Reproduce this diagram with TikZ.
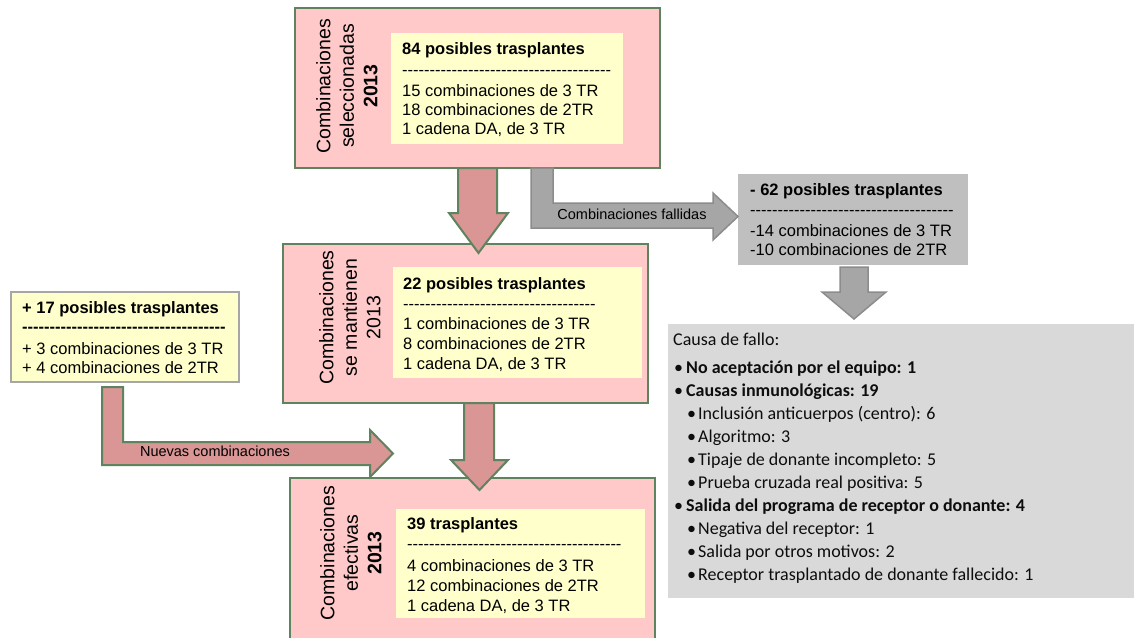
\documentclass[tikz,border=0pt]{standalone}
\usepackage{fontspec}
\newfontfamily\arial{Liberation Sans}
\newfontfamily\calib{Carlito}
\ExplSyntaxOn
\NewDocumentCommand\dashrow{m}{\prg_replicate:nn{#1}{-}}
\ExplSyntaxOff
\definecolor{pinkfill}{HTML}{FFC9C9}
\definecolor{yel}{HTML}{FFFFCC}
\definecolor{boxgreen}{HTML}{5F825F}
\definecolor{parrow}{HTML}{D99694}
\definecolor{garrow}{HTML}{A6A6A6}
\definecolor{garrowline}{HTML}{8C8C8C}
\definecolor{gbox}{HTML}{BFBFBF}
\definecolor{lgbox}{HTML}{D9D9D9}
\definecolor{ink}{HTML}{0D0D0D}
\begin{document}
\begin{tikzpicture}[x=1pt,y=-1pt,
  pinkbox/.style={draw=boxgreen, line width=2.5pt, fill=pinkfill, anchor=north west, inner sep=0pt, outer sep=0pt},
  yelbox/.style={fill=yel, anchor=north west, inner sep=0pt, outer sep=0pt},
  sidebox/.style={draw=garrow, line width=1.5pt, fill=yel, anchor=north west, inner sep=0pt, outer sep=0pt},
  graybox/.style={fill=gbox, anchor=north west, inner sep=0pt, outer sep=0pt},
  lgraybox/.style={fill=lgbox, anchor=north west, inner sep=0pt, outer sep=0pt},
  txt/.style={anchor=base west, inner sep=0pt, font=\fontsize{16.5}{19}\arial},
  btxt/.style={txt, font=\fontsize{16.5}{19}\arial\bfseries},
  rot/.style={rotate=90, align=center, inner sep=0pt, font=\fontsize{19.5}{23.5}\arial},
  lbl/.style={inner sep=0pt, font=\fontsize{14.5}{17}\arial},
  ctxt/.style={anchor=base west, inner sep=0pt, text=ink, font=\fontsize{18}{22}\calib},
  cbtxt/.style={ctxt, font=\fontsize{18}{22}\calib\bfseries},
  bul/.style={anchor=base west, inner sep=0pt, text=ink, font=\fontsize{18}{22}\calib},
  parrowst/.style={fill=parrow, draw=boxgreen, line width=2pt, line join=miter},
  garrowst/.style={fill=garrow, draw=garrowline, line width=1.5pt, line join=miter}
]
\useasboundingbox (0,0) rectangle (1134,637);
\clip (0,0) rectangle (1134,637);
\fill[white] (0,0) rectangle (1134,637);

% ---------- top box ----------
\node[pinkbox, minimum width=365pt, minimum height=160pt] (sel) at (295,8) {};
\node[yelbox, minimum width=232pt, minimum height=111pt] (selin) at (391,33) {};
\node[rot] (selrot) at (347,86) {Combinaciones\\seleccionadas\\\textbf{2013}};
\node[btxt] (s1) at (402,54) {84 posibles trasplantes};
\node[txt] (s2) at (402,75.5) {\dashrow{38}};
\node[txt] (s3) at (402,96) {15 combinaciones de 3 TR};
\node[txt] (s4) at (402,115) {18 combinaciones de 2TR};
\node[txt] (s5) at (402,134) {1 cadena DA, de 3 TR};

% ---------- middle box ----------
\node[pinkbox, minimum width=365pt, minimum height=159pt] (man) at (283,244) {};
\node[yelbox, minimum width=249pt, minimum height=111pt] (manin) at (393,267) {};
\node[rot] (manrot) at (350,317.5) {Combinaciones\\se mantienen\\2013};
\node[btxt] (m1) at (403,289) {22 posibles trasplantes};
\node[txt] (m2) at (403,309) {\dashrow{35}};
\node[txt] (m3) at (403,329) {1 combinaciones de 3 TR};
\node[txt] (m4) at (403,349) {8 combinaciones de 2TR};
\node[txt] (m5) at (403,369) {1 cadena DA, de 3 TR};

% ---------- bottom box ----------
\node[pinkbox, minimum width=365pt, minimum height=175pt] (efe) at (290,478) {};
\node[yelbox, minimum width=249pt, minimum height=109pt] (efein) at (396,509) {};
\node[rot] (eferot) at (351,553) {Combinaciones\\efectivas\\\textbf{2013}};
\node[btxt] (e1) at (407,529) {39 trasplantes};
\node[txt] (e2) at (407,549.5) {\dashrow{39}};
\node[txt] (e3) at (407,571) {4 combinaciones de 3 TR};
\node[txt] (e4) at (407,591) {12 combinaciones de 2TR};
\node[txt] (e5) at (407,611) {1 cadena DA, de 3 TR};

% ---------- left box ----------
\node[sidebox, minimum width=228pt, minimum height=90pt] (nue) at (11,292) {};
\node[btxt] (n1) at (22,313) {+ 17 posibles trasplantes};
\node[btxt] (n2) at (22,332.5) {\dashrow{37}};
\node[txt] (n3) at (22,354) {+ 3 combinaciones de 3 TR};
\node[txt] (n4) at (22,373) {+ 4 combinaciones de 2TR};

% ---------- gray box ----------
\node[graybox, minimum width=230pt, minimum height=91pt] (fal) at (738,174) {};
\node[btxt] (f1) at (750,195) {- 62 posibles trasplantes};
\node[txt] (f2) at (750,215.5) {\dashrow{37}};
\node[txt] (f3) at (750,236) {-14 combinaciones de 3 TR};
\node[txt] (f4) at (750,255) {-10 combinaciones de 2TR};

% ---------- causes box ----------
\node[lgraybox, minimum width=480pt, minimum height=274pt] (cau) at (668,324) {};
\node[ctxt] (c0) at (673,345) {Causa de fallo:};
\node[bul] (b1) at (674,373) {\textbullet};
\node[cbtxt] (c1) at (686,373) {No aceptación por el equipo: 1};
\node[bul] (b2) at (674,396) {\textbullet};
\node[cbtxt] (c2) at (686,396) {Causas inmunológicas: 19};
\node[bul] (b3) at (687,419) {\textbullet};
\node[ctxt] (c3) at (698,419) {Inclusión anticuerpos (centro): 6};
\node[bul] (b4) at (687,442) {\textbullet};
\node[ctxt] (c4) at (698,442) {Algoritmo: 3};
\node[bul] (b5) at (687,465) {\textbullet};
\node[ctxt] (c5) at (698,465) {Tipaje de donante incompleto: 5};
\node[bul] (b6) at (687,488) {\textbullet};
\node[ctxt] (c6) at (698,488) {Prueba cruzada real positiva: 5};
\node[bul] (b7) at (674,511) {\textbullet};
\node[cbtxt] (c7) at (686,511) {Salida del programa de receptor o donante: 4};
\node[bul] (b8) at (687,534) {\textbullet};
\node[ctxt] (c8) at (698,534) {Negativa del receptor: 1};
\node[bul] (b9) at (687,557) {\textbullet};
\node[ctxt] (c9) at (698,557) {Salida por otros motivos: 2};
\node[bul] (b10) at (687,580) {\textbullet};
\node[ctxt] (c10) at (698,580) {Receptor trasplantado de donante fallecido: 1};

% ---------- block arrows ----------
% seleccionadas -> mantienen
\draw[parrowst] (458,168) -- (497,168) -- (497,213) -- (508,213) -- (478.5,253) -- (449,213) -- (458,213) -- cycle;
% mantienen -> efectivas
\draw[parrowst] (464,403) -- (494,403) -- (494,460) -- (508,460) -- (479.5,490) -- (451,460) -- (464,460) -- cycle;
% nuevas combinaciones
\draw[parrowst] (102,387) -- (123,387) -- (123,442) -- (370,442) -- (370,430) -- (393,453.5) -- (370,477) -- (370,465) -- (102,465) -- cycle;
\node[lbl] (nuelbl) at (215,451) {Nuevas combinaciones};
% combinaciones fallidas
\draw[garrowst] (531,168) -- (553,168) -- (553,203) -- (713,203) -- (713,193) -- (738,216.5) -- (713,240) -- (713,228) -- (531,228) -- cycle;
\node[lbl] (fallbl) at (632,214) {Combinaciones fallidas};
% fallidas -> causas
\draw[garrowst] (840,267) -- (868,267) -- (868,292) -- (886,292) -- (854,319) -- (822,292) -- (840,292) -- cycle;
\end{tikzpicture}
\end{document}
